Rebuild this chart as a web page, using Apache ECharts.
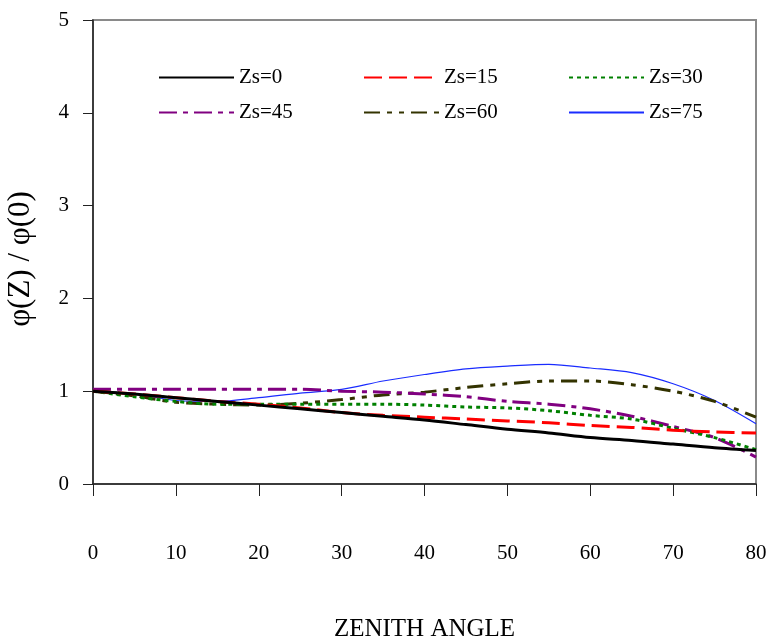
<!DOCTYPE html>
<html>
<head>
<meta charset="utf-8">
<script src="https://cdn.jsdelivr.net/npm/echarts@6/dist/echarts.min.js"></script>
<style>
  html, body { margin: 0; padding: 0; background: #fff; }
  #chart { width: 769px; height: 644px; }
</style>
</head>
<body>
<div id="chart"></div>
<script>
// Zenith angle (degrees) and relative flux phi(Z)/phi(0) for each source zenith Zs
var zenith = [0, 5, 10, 15, 20, 25, 30, 35, 40, 45, 50, 55, 60, 65, 70, 75, 80];
var zs0  = [1.00, 0.97, 0.93, 0.89, 0.85, 0.81, 0.77, 0.73, 0.69, 0.64, 0.59, 0.55, 0.50, 0.47, 0.43, 0.39, 0.36];
var zs15 = [1.00, 0.97, 0.93, 0.89, 0.86, 0.82, 0.77, 0.74, 0.72, 0.70, 0.68, 0.66, 0.63, 0.61, 0.58, 0.56, 0.55];
var zs30 = [1.00, 0.94, 0.89, 0.86, 0.86, 0.86, 0.86, 0.86, 0.85, 0.83, 0.82, 0.79, 0.74, 0.70, 0.60, 0.50, 0.37];
var zs45 = [1.02, 1.02, 1.02, 1.02, 1.02, 1.02, 1.00, 0.99, 0.97, 0.94, 0.89, 0.86, 0.81, 0.73, 0.62, 0.50, 0.29];
var zs60 = [1.00, 0.95, 0.88, 0.86, 0.85, 0.87, 0.91, 0.96, 0.99, 1.04, 1.08, 1.11, 1.11, 1.07, 1.00, 0.89, 0.72];
var zs75 = [1.00, 0.97, 0.90, 0.89, 0.93, 0.98, 1.02, 1.11, 1.18, 1.24, 1.27, 1.29, 1.25, 1.20, 1.08, 0.90, 0.65];

var seriesNames = ['Zs=0', 'Zs=15', 'Zs=30', 'Zs=45', 'Zs=60', 'Zs=75'];
var seriesValues = [zs0, zs15, zs30, zs45, zs60, zs75];

var FONT = '"Liberation Serif", "Times New Roman", serif';

// Line appearance per series
var styles = [
  { color: '#000000', width: 3,   type: 'solid' },
  { color: '#ff0000', width: 3,   type: [18, 7] },
  { color: '#008000', width: 3,   type: [4, 4] },
  { color: '#800080', width: 3,   type: [18, 6, 5, 6] },
  { color: '#333300', width: 3,   type: [16, 7, 5, 7, 5, 7] },
  { color: '#1a2cff', width: 1.2, type: 'solid' }
];

function pairs(xs, ys) {
  return xs.map(function (x, i) { return [x, ys[i]]; });
}

var series = seriesNames.map(function (name, i) {
  var s = styles[i];
  return {
    name: name,
    type: 'line',
    data: pairs(zenith, seriesValues[i]),
    smooth: 0.3,
    showSymbol: false,
    symbol: 'none',
    color: s.color,
    lineStyle: { color: s.color, width: s.width, type: s.type, cap: 'butt' },
    emphasis: { disabled: true },
    z: 10 - i
  };
});

var chart = echarts.init(document.getElementById('chart'), null, { renderer: 'canvas' });
chart.setOption({
  animation: false,
  backgroundColor: '#ffffff',
  grid: {
    left: 93, right: 13, top: 20, bottom: 160,
    outerBoundsMode: 'none',
    show: true, borderColor: '#8a8a8a', borderWidth: 2, backgroundColor: 'transparent'
  },
  legend: {
    data: seriesNames,
    left: 158, top: 60, width: 620,
    padding: 0,
    orient: 'horizontal',
    itemWidth: 75, itemHeight: 14, itemGap: 0,
    itemStyle: { opacity: 0 },
    textStyle: {
      fontFamily: FONT, fontSize: 21, color: '#000',
      width: 124, height: 35, lineHeight: 35, overflow: 'none'
    }
  },
  xAxis: {
    type: 'value', min: 0, max: 80, interval: 10,
    name: 'ZENITH ANGLE', nameLocation: 'middle', nameGap: 133,
    nameTextStyle: { fontFamily: FONT, fontSize: 25, color: '#000' },
    axisLine: { onZero: false, lineStyle: { color: '#222', width: 1.5 } },
    axisTick: { show: true, length: 12, lineStyle: { color: '#222', width: 1 } },
    axisLabel: { margin: 59, fontFamily: FONT, fontSize: 21, color: '#000' },
    splitLine: { show: false }
  },
  yAxis: {
    type: 'value', min: 0, max: 5, interval: 1,
    name: 'φ(Z) / φ(0)', nameLocation: 'middle', nameGap: 57, nameRotate: 90,
    nameTextStyle: { fontFamily: FONT, fontSize: 31, color: '#000', padding: [0, 14, 0, 0] },
    axisLine: { onZero: false, lineStyle: { color: '#222', width: 1.5 } },
    axisTick: { show: true, length: 10, lineStyle: { color: '#222', width: 1 } },
    axisLabel: { margin: 24, fontFamily: FONT, fontSize: 21, color: '#000' },
    splitLine: { show: false }
  },
  series: series
});
</script>
</body>
</html>
